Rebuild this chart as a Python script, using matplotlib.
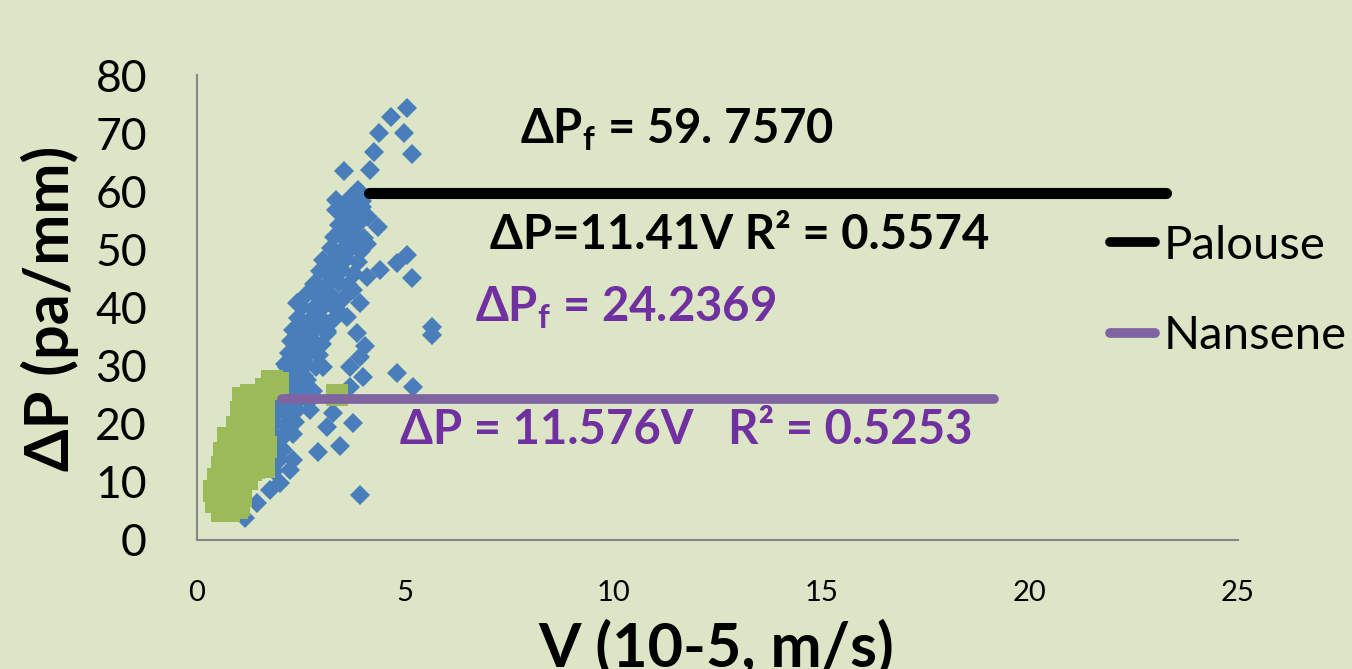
import matplotlib
matplotlib.use("Agg")
import matplotlib.pyplot as plt
from matplotlib.lines import Line2D

plt.rcParams["font.family"] = ["Lato", "DejaVu Sans"]
plt.rcParams["mathtext.fontset"] = "custom"
plt.rcParams["mathtext.rm"] = "Lato"
plt.rcParams["mathtext.bf"] = "Lato:bold"

BG = "#DCE6C6"
BLUE = "#4A7EBB"
GREEN = "#9BBB59"
PURPLE_LINE = "#8064A2"
PURPLE_TEXT = "#7030A0"

# Palouse measurements: velocity (10^-5 m/s) and pressure gradient (Pa/mm)
palouse_v = [5.04, 4.65, 4.37, 4.98, 5.17, 4.26, 3.53, 4.15, 3.87, 3.35, 3.35, 3.96,
             4.35, 3.51, 4.08, 3.75, 3.19, 4.80, 5.04, 5.16, 4.39, 4.08, 3.75, 2.79,
             2.39, 3.19, 3.91, 3.60, 2.95, 2.55, 5.64, 5.64, 2.39, 3.11, 3.84, 2.23,
             2.79, 4.03, 3.91, 2.15, 3.03, 3.67, 4.80, 5.19, 3.99, 2.63, 2.55, 3.67,
             1.99, 2.71, 3.27, 3.75, 3.11, 2.23, 3.43, 2.91, 2.31, 2.23, 1.99, 1.75,
             1.43, 1.15, 3.91, 2.07, 1.91,
             3.62, 3.80, 3.97, 3.52, 3.71, 3.90, 3.41, 3.66, 3.86, 3.30, 3.55, 3.79,
             4.02, 3.22, 3.46, 3.72, 3.95, 3.02, 3.31, 3.58, 3.86, 2.96, 3.21, 3.49,
             3.76, 2.82, 3.10, 3.40, 3.63, 2.62, 2.91, 3.19, 3.52, 2.51, 2.79, 3.06,
             3.36, 2.42, 2.71, 2.96, 3.24, 2.31, 2.62, 2.86, 3.12, 2.26, 2.49, 2.76,
             3.01, 2.21, 2.46, 2.71, 2.94, 2.12, 2.36, 2.61, 2.86, 2.06, 2.31, 2.56,
             2.01, 2.26, 2.52, 2.79, 1.96, 2.21, 2.44, 2.69, 1.91, 2.16, 2.41, 1.86,
             2.11, 2.36, 1.81, 2.06, 2.31, 1.76, 2.01, 1.71, 1.96, 1.62, 1.86,
             3.48, 3.27, 3.05, 2.85, 2.66, 2.47, 3.83, 4.10, 3.70, 2.37]
palouse_dp = [74.3, 72.8, 70.0, 70.1, 66.4, 66.7, 63.5, 63.7, 60.2, 58.5, 56.8, 57.3,
              53.9, 53.3, 51.0, 50.5, 47.6, 47.6, 49.0, 45.0, 46.5, 45.3, 43.0, 43.0,
              40.7, 40.7, 40.7, 38.4, 37.3, 37.3, 36.7, 35.3, 34.4, 35.6, 35.6, 32.1,
              32.7, 33.3, 31.5, 29.8, 29.8, 29.8, 28.7, 26.4, 28.1, 27.5, 24.7, 26.4,
              22.4, 22.4, 21.8, 20.1, 19.5, 20.1, 16.1, 15.2, 13.8, 12.0, 9.8, 8.6,
              6.3, 3.7, 7.7, 15.5, 17.8,
              58.2, 57.6, 58.4, 56.1, 55.8, 56.3, 54.2, 53.8, 54.4, 52.1, 51.7, 52.3,
              51.9, 50.2, 49.8, 50.4, 49.7, 48.1, 47.8, 48.3, 47.9, 46.2, 45.8, 46.4,
              45.7, 44.1, 43.8, 44.3, 43.9, 42.2, 41.8, 42.3, 41.7, 40.1, 39.8, 40.3,
              39.6, 38.2, 37.8, 38.3, 37.7, 36.1, 35.8, 36.3, 35.9, 34.2, 33.8, 34.4,
              33.7, 32.1, 31.8, 32.3, 31.9, 30.2, 29.8, 30.3, 29.7, 28.2, 27.8, 28.3,
              26.1, 25.8, 26.3, 25.7, 24.2, 23.8, 24.3, 23.9, 22.1, 21.8, 22.3, 20.2,
              19.8, 20.3, 18.1, 17.8, 18.2, 16.2, 15.8, 14.1, 13.8, 12.2, 11.8,
              49.0, 45.2, 41.1, 37.0, 33.1, 29.2, 55.0, 55.6, 59.0, 31.0]

# Nansene measurements
nansene_v = [1.80, 1.88, 1.95, 1.65, 1.10, 1.30, 1.50, 1.60, 1.05, 1.25, 1.45, 1.62,
             0.95, 1.15, 1.40, 1.60, 0.75, 0.95, 1.20, 1.45, 1.65, 0.65, 0.85, 1.10,
             1.35, 1.62, 0.60, 0.80, 1.05, 1.30, 1.60, 0.50, 0.75, 1.00, 1.20, 0.40,
             0.60, 0.85, 1.05, 0.46, 0.62, 0.80, 1.00, 0.60, 0.78, 0.95, 3.36]
nansene_dp = [27.3, 26.2, 27.0, 26.0, 24.5, 25.0, 24.8, 23.5, 22.0, 22.5, 22.0, 21.0,
              19.5, 20.0, 19.5, 18.5, 17.5, 17.0, 17.5, 16.5, 16.0, 15.0, 14.5, 15.0,
              14.0, 13.5, 12.5, 12.0, 12.5, 12.0, 12.5, 10.5, 10.0, 10.0, 10.5, 8.5,
              8.0, 8.5, 7.5, 6.5, 6.0, 5.5, 6.0, 5.0, 5.0, 5.5, 24.9]

# Threshold pressure gradients and the velocity span each line covers
palouse_dpf = 59.7570
palouse_span = [4.13, 23.27]
nansene_dpf = 24.2369
nansene_span = [2.04, 19.13]

x_ticks = [0, 5, 10, 15, 20, 25]
y_ticks = [0, 10, 20, 30, 40, 50, 60, 70, 80]

W, H = 1352, 669
fig = plt.figure(figsize=(W / 100, H / 100), dpi=100, facecolor=BG)
ax = fig.add_axes([197 / W, 1 - 540 / H, (1238 - 197) / W, (540 - 75) / H])
ax.set_facecolor(BG)

ax.plot(palouse_v, palouse_dp, linestyle="none", marker="D", markersize=10,
        color=BLUE, markeredgewidth=0, zorder=2)
ax.plot(nansene_v, nansene_dp, linestyle="none", marker="s", markersize=16,
        color=GREEN, markeredgewidth=0, zorder=3)

ax.plot(palouse_span, [palouse_dpf, palouse_dpf], color="black", linewidth=8,
        solid_capstyle="round", zorder=4)
ax.plot(nansene_span, [nansene_dpf, nansene_dpf], color=PURPLE_LINE, linewidth=7,
        solid_capstyle="round", zorder=4)

ax.set_xlim(0, 25)
ax.set_ylim(0, 80)
ax.set_xticks(x_ticks)
ax.set_yticks(y_ticks)
ax.tick_params(axis="both", length=0)
ax.tick_params(axis="y", labelsize=32, pad=36)
ax.tick_params(axis="x", labelsize=21, pad=29)

for side in ("top", "right"):
    ax.spines[side].set_visible(False)
for side in ("left", "bottom"):
    ax.spines[side].set_color("#868686")
    ax.spines[side].set_linewidth(1.5)

# Axis titles
fig.text(716 / W, 3 / H, "V (10-5, m/s)", fontsize=44, fontweight="bold",
         ha="center", va="baseline")
fig.text(50 / W, 1 - 308 / H, "ΔP (pa/mm)", fontsize=44, fontweight="bold",
         rotation=90, ha="center", va="center")

# Fitted-line annotations
fig.text(520 / W, 1 - 130 / H, r"ΔP$_{\mathbf{f}}$ = 59. 7570", fontsize=34,
         fontweight="bold", color="black", va="center", ha="left")
fig.text(490 / W, 1 - 235 / H, "ΔP=11.41V R² = 0.5574", fontsize=34,
         fontweight="bold", color="black", va="center", ha="left")
fig.text(475 / W, 1 - 308 / H, r"ΔP$_{\mathbf{f}}$ = 24.2369", fontsize=34,
         fontweight="bold", color=PURPLE_TEXT, va="center", ha="left")
fig.text(400 / W, 1 - 430 / H, "ΔP = 11.576V   R² = 0.5253", fontsize=34,
         fontweight="bold", color=PURPLE_TEXT, va="center", ha="left")

handles = [Line2D([], [], color="black", linewidth=7, solid_capstyle="round"),
           Line2D([], [], color=PURPLE_LINE, linewidth=7, solid_capstyle="round")]
fig.legend(handles, ["Palouse", "Nansene"], loc="center left",
           bbox_to_anchor=(1110 / W, 1 - 291 / H), frameon=False,
           fontsize=34, handlelength=0.95, handletextpad=0.18, labelspacing=1.02,
           borderpad=0, borderaxespad=0)

fig.savefig("out.png", dpi=100, facecolor=BG)
